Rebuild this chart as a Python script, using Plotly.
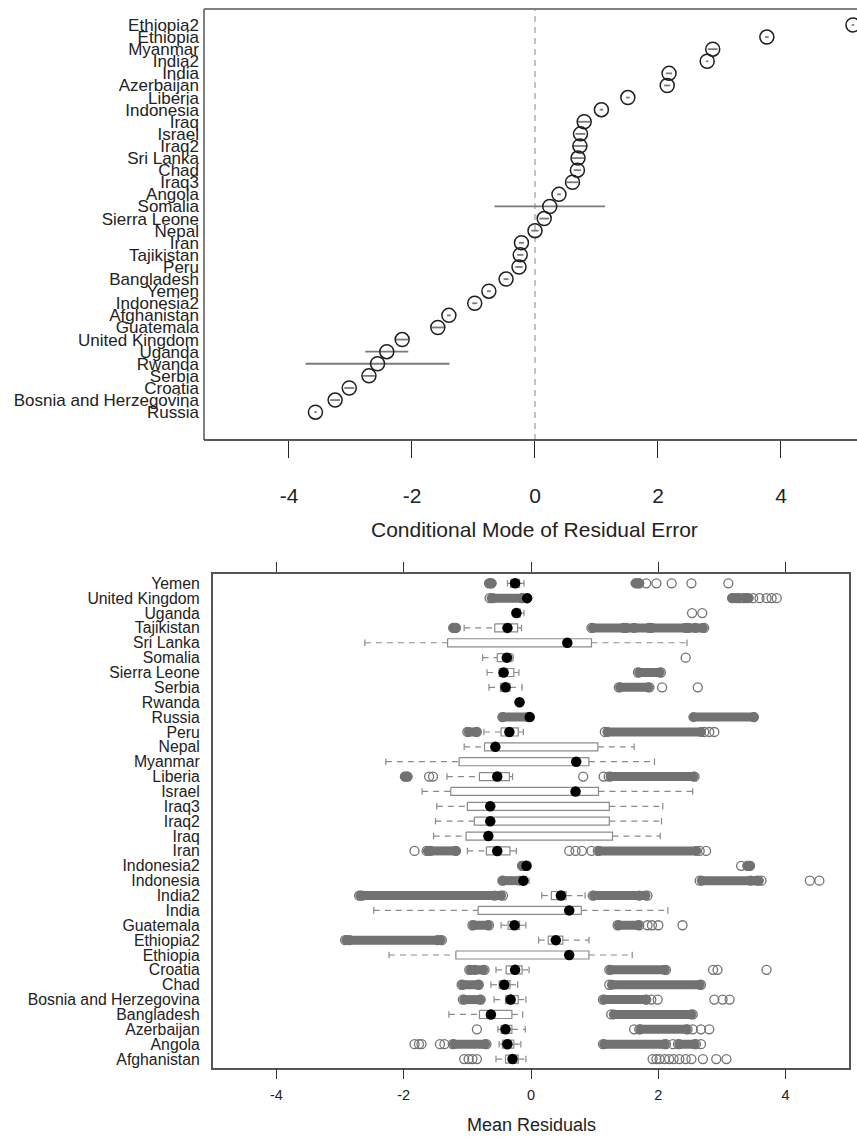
import plotly.graph_objects as go

# ---- upper panel: conditional modes with intervals ----
dot_countries = ["Ethiopia2", "Ethiopia", "Myanmar", "India2", "India", "Azerbaijan",
                 "Liberia", "Indonesia", "Iraq", "Israel", "Iraq2", "Sri Lanka", "Chad",
                 "Iraq3", "Angola", "Somalia", "Sierra Leone", "Nepal", "Iran",
                 "Tajikistan", "Peru", "Bangladesh", "Yemen", "Indonesia2", "Afghanistan",
                 "Guatemala", "United Kingdom", "Uganda", "Rwanda", "Serbia", "Croatia",
                 "Bosnia and Herzegovina", "Russia"]
dot_values = [5.17, 3.77, 2.89, 2.80, 2.18, 2.15, 1.51, 1.08, 0.80, 0.74, 0.73, 0.70, 0.69,
              0.61, 0.39, 0.24, 0.15, 0.00, -0.22, -0.24, -0.26, -0.47, -0.75, -0.98,
              -1.40, -1.58, -2.16, -2.41, -2.56, -2.70, -3.02, -3.25, -3.57]
dot_halfwidth = [0.02, 0.03, 0.08, 0.02, 0.05, 0.05, 0.03, 0.03, 0.10, 0.08, 0.12, 0.10,
                 0.06, 0.10, 0.03, 0.90, 0.08, 0.06, 0.04, 0.05, 0.06, 0.04, 0.03, 0.04,
                 0.03, 0.10, 0.10, 0.35, 1.17, 0.10, 0.08, 0.08, 0.02]
top_ticks = [-4, -2, 0, 2, 4]

# ---- lower panel: residual distributions per country ----
bw_countries = ["Yemen", "United Kingdom", "Uganda", "Tajikistan", "Sri Lanka", "Somalia",
                "Sierra Leone", "Serbia", "Rwanda", "Russia", "Peru", "Nepal", "Myanmar",
                "Liberia", "Israel", "Iraq3", "Iraq2", "Iraq", "Iran", "Indonesia2",
                "Indonesia", "India2", "India", "Guatemala", "Ethiopia2", "Ethiopia",
                "Croatia", "Chad", "Bosnia and Herzegovina", "Bangladesh", "Azerbaijan",
                "Angola", "Afghanistan"]
whisker_low = [-0.37, -0.13, -0.28, -1.05, -2.61, -0.76, -0.69, -0.66, -0.19, -0.05, -0.74,
               -1.05, -2.28, -1.32, -1.71, -1.48, -1.50, -1.53, -1.00, -0.10, -0.20, 0.17,
               -2.47, -0.47, 0.12, -2.23, -0.55, -0.63, -0.58, -1.29, -0.52, -0.50, -0.55]
quart1 = [-0.32, -0.10, -0.26, -0.57, -1.31, -0.53, -0.50, -0.48, -0.19, -0.04, -0.47,
          -0.73, -1.13, -0.81, -1.26, -1.00, -0.89, -1.02, -0.70, -0.09, -0.17, 0.32,
          -0.83, -0.36, 0.27, -1.18, -0.39, -0.50, -0.40, -0.81, -0.47, -0.45, -0.40]
median = [-0.25, -0.06, -0.23, -0.37, 0.57, -0.38, -0.43, -0.40, -0.18, -0.02, -0.34,
          -0.56, 0.71, -0.53, 0.70, -0.64, -0.64, -0.67, -0.53, -0.07, -0.12, 0.47,
          0.60, -0.26, 0.39, 0.60, -0.25, -0.42, -0.32, -0.63, -0.40, -0.37, -0.29]
quart3 = [-0.18, -0.03, -0.17, -0.21, 0.95, -0.30, -0.27, -0.33, -0.17, -0.01, -0.20,
          1.05, 0.91, -0.34, 1.06, 1.23, 1.23, 1.28, -0.33, -0.05, -0.07, 0.55,
          0.79, -0.18, 0.50, 0.91, -0.14, -0.33, -0.20, -0.30, -0.30, -0.27, -0.20]
whisker_high = [-0.11, -0.02, -0.11, -0.15, 2.45, -0.28, -0.19, -0.14, -0.17, 0.00, -0.12,
                1.62, 1.94, -0.29, 2.54, 2.07, 2.05, 2.03, -0.23, -0.04, -0.03, 0.85,
                2.15, -0.08, 0.91, 1.59, -0.03, -0.21, -0.08, -0.13, -0.09, -0.16, -0.08]
outliers = [
    [-0.66, -0.62, 1.66, 1.70, 1.81, 1.97, 2.21, 2.52, 3.10],
    [-0.65, -0.60, -0.14, 3.16, 3.22, 3.28, 3.34, 3.40, 3.49, 3.59, 3.70, 3.78, 3.86],
    [2.53, 2.69],
    [-1.22, -1.18, 0.95, 1.47, 1.62, 1.87, 2.45, 2.58, 2.72],
    [],
    [2.43],
    [1.68, 2.04],
    [1.38, 1.86, 2.06, 2.62],
    [],
    [-0.45, 3.50],
    [-1.00, -0.85, 1.16, 2.72, 2.80, 2.88],
    [],
    [],
    [-1.98, -1.94, -1.60, -1.54, 0.82, 1.14, 1.22, 2.57],
    [],
    [],
    [],
    [],
    [-1.83, -1.64, -1.58, -1.18, 0.60, 0.70, 0.80, 0.95, 1.05, 2.65, 2.75],
    [-0.14, -0.11, 3.30, 3.40, 3.44],
    [-0.45, 2.65, 3.45, 3.55, 3.62, 4.38, 4.53],
    [-2.70, -2.65, -0.57, -0.44, 0.97, 1.70, 1.83],
    [],
    [-0.92, -0.66, 1.36, 1.70, 1.83, 1.90, 2.00, 2.38],
    [-2.92, -2.85, -1.47, -1.40],
    [],
    [-0.97, -0.88, -0.73, 1.23, 2.12, 2.86, 2.93, 3.70],
    [-1.09, -0.82, 1.23, 2.67],
    [-1.07, -0.79, 1.13, 1.81, 1.89, 1.99, 2.88, 3.01, 3.12],
    [1.26, 2.54],
    [-0.85, 1.62, 1.70, 2.46, 2.54, 2.67, 2.80],
    [-1.83, -1.76, -1.72, -1.43, -1.36, -1.23, -0.70, 1.13, 2.12, 2.23, 2.31, 2.59, 2.67],
    [-1.05, -0.98, -0.92, -0.85, 1.91, 1.97, 2.02, 2.10, 2.17, 2.24, 2.33, 2.43, 2.52,
     2.70, 2.91, 3.07],
]
# runs of outliers so close together that they merge into a solid band
outlier_runs = [
    [(-0.65, -0.62), (1.64, 1.70)],
    [(-0.62, -0.14), (3.16, 3.24), (3.36, 3.42)],
    [],
    [(-1.22, -1.18), (0.97, 1.45), (1.50, 1.85), (1.90, 2.42), (2.48, 2.70)],
    [],
    [],
    [(1.70, 2.02)],
    [(1.40, 1.84)],
    [],
    [(-0.44, -0.05), (2.55, 3.50)],
    [(-0.98, -0.86), (1.20, 2.67)],
    [],
    [],
    [(-1.98, -1.94), (1.25, 2.55)],
    [],
    [],
    [],
    [],
    [(-1.62, -1.18), (1.07, 2.60)],
    [(-0.14, -0.08), (3.40, 3.44)],
    [(-0.44, -0.18), (2.68, 3.58)],
    [(-2.68, -0.47), (0.99, 1.80)],
    [],
    [(-0.90, -0.68), (1.38, 1.68)],
    [(-2.90, -1.42)],
    [],
    [(-0.95, -0.75), (1.25, 2.10)],
    [(-1.07, -0.83), (1.27, 2.65)],
    [(-1.05, -0.80), (1.15, 1.80)],
    [(1.30, 2.52)],
    [(1.72, 2.44)],
    [(-1.21, -0.72), (1.15, 2.10), (2.33, 2.57)],
    [],
]
bottom_ticks = [-4, -2, 0, 2, 4]

FONT = "Liberation Sans, Arial, sans-serif"
TXT = "#222222"
GREY = "#727272"
BOXGREY = "#8a8a8a"

fig = go.Figure()

# upper dot plot
top_rows = list(range(len(dot_countries)))
fig.add_trace(go.Scatter(
    x=dot_values, y=top_rows, mode="markers",
    marker=dict(symbol="circle-open", size=14, color="#1e1e1e", line=dict(width=1.5)),
    error_x=dict(type="data", array=dot_halfwidth, symmetric=True,
                 color="#7a7a7a", thickness=1.8, width=0),
    xaxis="x", yaxis="y", cliponaxis=False, hoverinfo="skip", showlegend=False,
))

# lower box-and-whisker plot
bx, by, wx, wy, cx, cy, ox, oy, dx, dy = [], [], [], [], [], [], [], [], [], []
h_box, h_cap = 0.27, 0.22
for i in range(len(bw_countries)):
    lo, a, b, hi = whisker_low[i], quart1[i], quart3[i], whisker_high[i]
    bx += [a, b, b, a, a, None]
    by += [i - h_box, i - h_box, i + h_box, i + h_box, i - h_box, None]
    wx += [lo, a, None, b, hi, None]
    wy += [i, i, None, i, i, None]
    cx += [lo, lo, None, hi, hi, None]
    cy += [i - h_cap, i + h_cap, None, i - h_cap, i + h_cap, None]
    for v in outliers[i]:
        ox.append(v)
        oy.append(i)
    for r0, r1 in outlier_runs[i]:
        dx += [r0, r1, None]
        dy += [i, i, None]

fig.add_trace(go.Scatter(x=dx, y=dy, mode="lines+markers", connectgaps=False,
                         line=dict(color=GREY, width=9),
                         marker=dict(size=9, color=GREY, line=dict(color=GREY, width=1)),
                         xaxis="x2", yaxis="y2", hoverinfo="skip", showlegend=False))
fig.add_trace(go.Scatter(x=ox, y=oy, mode="markers",
                         marker=dict(symbol="circle-open", size=9, color=GREY,
                                     line=dict(width=1.3)),
                         xaxis="x2", yaxis="y2", hoverinfo="skip", showlegend=False))
fig.add_trace(go.Scatter(x=wx, y=wy, mode="lines", connectgaps=False,
                         line=dict(color=BOXGREY, width=1.2, dash="6px,5px"),
                         xaxis="x2", yaxis="y2", hoverinfo="skip", showlegend=False))
fig.add_trace(go.Scatter(x=cx, y=cy, mode="lines", connectgaps=False,
                         line=dict(color=BOXGREY, width=1.2),
                         xaxis="x2", yaxis="y2", hoverinfo="skip", showlegend=False))
fig.add_trace(go.Scatter(x=bx, y=by, mode="lines", connectgaps=False,
                         line=dict(color=BOXGREY, width=1.2),
                         xaxis="x2", yaxis="y2", hoverinfo="skip", showlegend=False))
fig.add_trace(go.Scatter(x=median, y=list(range(len(bw_countries))), mode="markers",
                         marker=dict(size=10.5, color="black"),
                         xaxis="x2", yaxis="y2", hoverinfo="skip", showlegend=False))

W, H = 857, 1137
def py(px):
    return 1 - px / H

fig.update_layout(
    width=W, height=H, margin=dict(l=0, r=0, t=0, b=0),
    paper_bgcolor="white", plot_bgcolor="white",
    font=dict(family=FONT, color=TXT),
    showlegend=False,
    xaxis=dict(domain=[204 / W, 1.0], range=[-5.382, 5.236],
               tickvals=top_ticks, ticktext=[str(t) for t in top_ticks],
               ticks="outside", ticklen=17, tickwidth=1.4, tickcolor="#222",
               ticklabelstandoff=20, tickfont=dict(size=21, color=TXT),
               showgrid=False, zeroline=False, showline=False),
    yaxis=dict(domain=[py(440), py(9)], range=[34.30, -1.32],
               tickvals=top_rows, ticktext=dot_countries,
               ticks="", ticklabelstandoff=4, tickfont=dict(size=17, color=TXT),
               showgrid=False, zeroline=False, showline=False),
    xaxis2=dict(domain=[212.7 / W, 849.3 / W], range=[-5, 5], anchor="y2",
                tickvals=bottom_ticks, ticktext=[str(t) for t in bottom_ticks],
                ticks="outside", ticklen=10, tickwidth=1.2, tickcolor="#333",
                ticklabelstandoff=3, tickfont=dict(size=14.5, color=TXT),
                showline=True, linecolor="#555", linewidth=1.5, mirror="ticks",
                showgrid=False, zeroline=False),
    yaxis2=dict(domain=[py(1067.7), py(574)], range=[32.58, -0.625], anchor="x2",
                tickvals=list(range(len(bw_countries))), ticktext=bw_countries,
                ticks="", ticklabelstandoff=8, tickfont=dict(size=15.8, color=TXT),
                showline=True, linecolor="#555", linewidth=1.5, mirror=True,
                showgrid=False, zeroline=False),
    shapes=[
        # frame of the upper panel (left, top, bottom)
        dict(type="line", xref="x domain", yref="y domain", x0=0, x1=0, y0=0, y1=1,
             line=dict(color="#808080", width=2)),
        dict(type="line", xref="x domain", yref="y domain", x0=0, x1=1, y0=1, y1=1,
             line=dict(color="#808080", width=2)),
        dict(type="line", xref="x domain", yref="y domain", x0=0, x1=1, y0=0, y1=0,
             line=dict(color="#222", width=1.5)),
        # reference line at zero
        dict(type="line", xref="x", yref="y domain", x0=0, x1=0, y0=0, y1=1,
             line=dict(color="#b0b0b0", width=1.5, dash="6px,5px"), layer="below"),
    ],
    annotations=[
        dict(text="Conditional Mode of Residual Error", xref="x", x=0, yref="paper",
             y=py(529), xanchor="center", yanchor="middle", showarrow=False,
             font=dict(size=21, color=TXT)),
        dict(text="Mean Residuals", xref="x2", x=0, yref="paper", y=py(1125),
             xanchor="center", yanchor="middle", showarrow=False,
             font=dict(size=18, color=TXT)),
    ],
)

fig.write_html("out.html")
